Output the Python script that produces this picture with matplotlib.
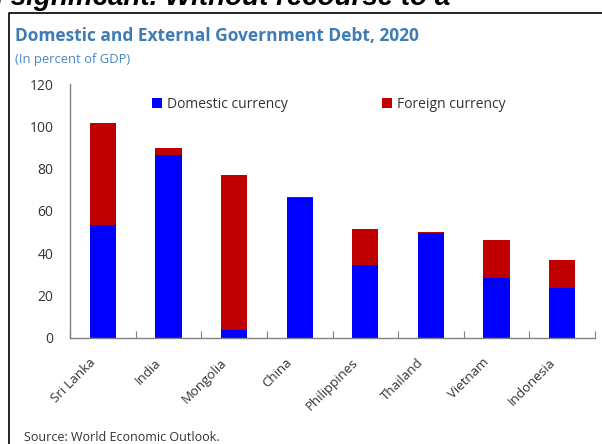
import matplotlib.pyplot as plt
import matplotlib.transforms as mtransforms
from matplotlib.lines import Line2D
import numpy as np

countries = ["Sri Lanka", "India", "Mongolia", "China",
             "Philippines", "Thailand", "Vietnam", "Indonesia"]
domestic = [53.4, 86.5, 3.6, 66.3, 34.4, 49.4, 28.4, 23.7]
foreign = [48.1, 3.2, 73.3, 0.3, 17.2, 0.8, 17.9, 12.9]

blue = "#0000FF"
red = "#C00000"
axis_grey = "#808080"
text_grey = "#333333"

plt.rcParams['font.family'] = ['Open Sans', 'DejaVu Sans']

fig = plt.figure(figsize=(6.02, 4.44), dpi=100)
ax = fig.add_axes([70 / 602, 1 - 337.7 / 444, 525 / 602, 253.4 / 444])

x = np.arange(len(countries))
ax.bar(x, domestic, width=0.4, color=blue, label="Domestic currency")
ax.bar(x, foreign, width=0.4, bottom=domestic, color=red, label="Foreign currency")

ax.set_xlim(-0.5, len(countries) - 0.5)
ax.set_ylim(0, 120)
ax.set_yticks(range(0, 121, 20))
ax.tick_params(axis='y', length=0, pad=12, labelsize=10, labelcolor=text_grey)

# category labels at bar centres, tick marks between categories
ax.set_xticks(x)
ax.set_xticklabels(countries, rotation=45, ha='right', rotation_mode='anchor')
ax.tick_params(axis='x', which='major', length=0, pad=13, labelsize=9.5, labelcolor=text_grey)
ax.set_xticks(np.arange(-0.5, len(countries)), minor=True)
ax.tick_params(axis='x', which='minor', direction='in', length=5, width=0.8, color=axis_grey)
shift = mtransforms.ScaledTranslation(-10 / 72, 0, fig.dpi_scale_trans)
for lbl in ax.get_xticklabels():
    lbl.set_transform(lbl.get_transform() + shift)

for side in ['top', 'right']:
    ax.spines[side].set_visible(False)
for side in ['left', 'bottom']:
    ax.spines[side].set_color(axis_grey)
    ax.spines[side].set_linewidth(1.0)

ax.legend(loc='upper left', bbox_to_anchor=(0.133, 1.0), ncol=2, frameon=False,
          fontsize=10, handlelength=0.7, handleheight=0.7, handletextpad=0.35,
          columnspacing=6.8, labelcolor=text_grey)

fig.text(15 / 602, 1 - 36 / 444, "Domestic and External Government Debt, 2020",
         fontsize=12.5, fontweight='bold', color="#3F7CB4", va='center', ha='left')
fig.text(15 / 602, 1 - 60 / 444, "(In percent of GDP)",
         fontsize=9.4, color="#4A86C5", va='center', ha='left')
fig.text(24 / 602, 1 - 437 / 444, "Source: World Economic Outlook.",
         fontsize=9, color=text_grey, va='center', ha='left')

# surrounding page text and box border
fig.text(-14 / 602, 1 - 5 / 444, "n significant. Without recourse to a",
         fontsize=20, fontweight='bold', fontstyle='italic', family='Liberation Sans',
         color='black', va='baseline', ha='left')
fig.add_artist(Line2D([9 / 602, 9 / 602, 1.0], [0.0, 1 - 13 / 444, 1 - 13 / 444],
                      transform=fig.transFigure, color='black', linewidth=1.2))

fig.savefig("out.png", dpi=100)
